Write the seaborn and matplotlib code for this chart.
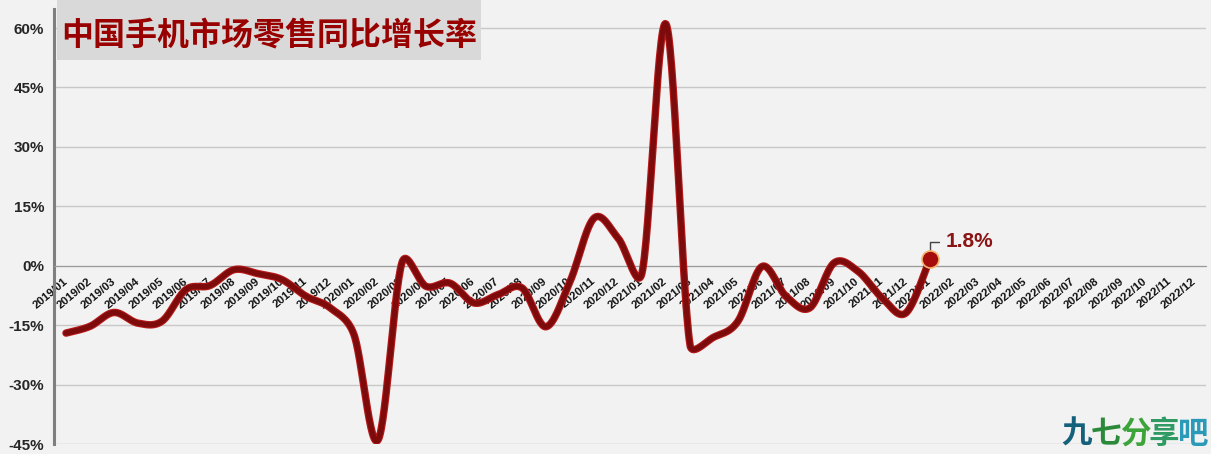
import numpy as np
import pandas as pd
import matplotlib
matplotlib.use("Agg")
import matplotlib.pyplot as plt
import matplotlib.patheffects as pe
from matplotlib.patches import Rectangle
import seaborn as sns

# months shown on the axis
months = [f"{y}/{m:02d}" for y in (2019, 2020, 2021, 2022) for m in range(1, 13)]

# year-on-year retail growth of China's phone market (%), 2019/01 - 2022/01
growth = [-17, -15.3, -11.8, -14.5, -14, -6, -5, -1, -2, -3.5, -7.7, -10.6,
          -17.4, -44, 0.8, -5.2, -4.4, -9.4, -7.3, -5.6, -15.4, -4, 12, 7,
          -1.8, 61, -20, -18, -14, -0.2, -7.7, -10.6, 0.7, -1.4, -8.1, -11.9,
          1.8]

y_ticks = [-45, -30, -15, 0, 15, 30, 45, 60]
title = "中国手机市场零售同比增长率"
last_label = "1.8%"

bg = "#f2f2f2"
dark_red = "#7d0b0b"


def smooth(ys, yscale=0.165, n=30):
    # excel-like smoothed line: catmull-rom bezier in screen-like units,
    # control handles capped at half the segment length
    p = np.column_stack([np.arange(len(ys)), np.asarray(ys, float) * yscale])
    p = np.vstack([p[0], p, p[-1]])
    t = np.linspace(0, 1, n, endpoint=False)[:, None]
    out = []
    for i in range(1, len(p) - 2):
        p0, p1, p2, p3 = p[i - 1], p[i], p[i + 1], p[i + 2]
        seg = np.linalg.norm(p2 - p1)
        h1 = (p2 - p0) / 6
        h2 = (p3 - p1) / 6
        for h in (h1, h2):
            ln = np.linalg.norm(h)
            if ln > 0.5 * seg:
                h *= 0.5 * seg / ln
        c1 = p1 + h1
        c2 = p2 - h2
        out.append((1 - t) ** 3 * p1 + 3 * (1 - t) ** 2 * t * c1
                   + 3 * (1 - t) * t ** 2 * c2 + t ** 3 * p2)
    out.append(p[-2][None, :])
    res = np.vstack(out)
    return res[:, 0], res[:, 1] / yscale


sns.set_style("white")
plt.rcParams["font.family"] = ["Liberation Sans", "Noto Sans CJK SC", "DejaVu Sans"]

fig = plt.figure(figsize=(12.11, 4.54), dpi=100, facecolor=bg)
ax = fig.add_axes([54 / 1211, 10 / 454, 1152 / 1211, 435 / 454])
ax.set_facecolor(bg)

sx, sy = smooth(growth)
df = pd.DataFrame({"x": sx, "y": sy})
sns.lineplot(data=df, x="x", y="y", sort=False, estimator=None, ax=ax,
             color=dark_red, lw=3.8, zorder=4,
             path_effects=[pe.Stroke(linewidth=5.4, foreground="#b51a1a"), pe.Normal()])

last = pd.DataFrame({"x": [len(growth) - 1], "y": [growth[-1]]})
sns.scatterplot(data=last, x="x", y="y", ax=ax, s=150, color="#a50d0d",
                edgecolor="#f5b26b", linewidth=1.2, zorder=6)
ax.annotate(last_label, xy=(len(growth) - 1, growth[-1]), xytext=(11, 12),
            textcoords="offset points", ha="left", va="center",
            fontsize=15, fontweight="bold", color="#8b1414",
            arrowprops=dict(arrowstyle="-", color="#444444", lw=1,
                            connectionstyle="angle,angleA=0,angleB=90,rad=0",
                            shrinkA=2, shrinkB=6))

# move the category axis to the zero line first (this resets the ticks)
ax.spines["bottom"].set_position(("data", 0))
ax.spines["bottom"].set_color("#9a9a9a")
ax.spines["left"].set_color("#7f7f7f")
ax.spines["left"].set_linewidth(2.2)
for s in ("top", "right"):
    ax.spines[s].set_visible(False)

ax.set_xlim(-0.5, len(months) - 0.5)
ax.set_ylim(-45, 64.8)
ax.set_xlabel("")
ax.set_ylabel("")

ax.set_yticks(y_ticks)
ax.set_yticklabels([f"{v}%" for v in y_ticks], fontsize=11, fontweight="bold")
ax.grid(axis="y", color="#c8c8c8", lw=1)
ax.grid(axis="x", visible=False)
ax.tick_params(axis="y", length=4, width=1, color="#808080", pad=3)

ax.set_xticks(range(len(months)))
ax.set_xticklabels(months, rotation=40, ha="right", va="center",
                   rotation_mode="anchor", fontsize=8.2, fontweight="bold",
                   color="#111111")
ax.set_xticks(np.arange(len(months) + 1) - 0.5, minor=True)
ax.tick_params(axis="x", which="major", length=0, pad=10)
ax.tick_params(axis="x", which="minor", length=4, direction="out", color="#999999")

# title box
ax.add_patch(Rectangle((57 / 1211, 394 / 454), 424 / 1211, 60 / 454,
                       transform=fig.transFigure, facecolor="#d9d9d9",
                       edgecolor="none", clip_on=False, zorder=5))
fig.text(269 / 1211, 419 / 454, title, ha="center", va="center",
         fontsize=23, fontweight="heavy", color="#990000",
         family=["Noto Sans CJK SC"], zorder=6)

# watermark
wm_colors = ["#15607a", "#2a8a3a", "#3ca43a", "#2f9a62", "#2a9ab8"]
for i, (ch, c) in enumerate(zip("九七分享吧", wm_colors)):
    fig.text((1077 + i * 29) / 1211, 20 / 454, ch, ha="center", va="center",
             fontsize=22, fontweight="heavy", color=c, family=["Noto Sans CJK SC"])

fig.savefig("out.png", dpi=100, facecolor=bg)
